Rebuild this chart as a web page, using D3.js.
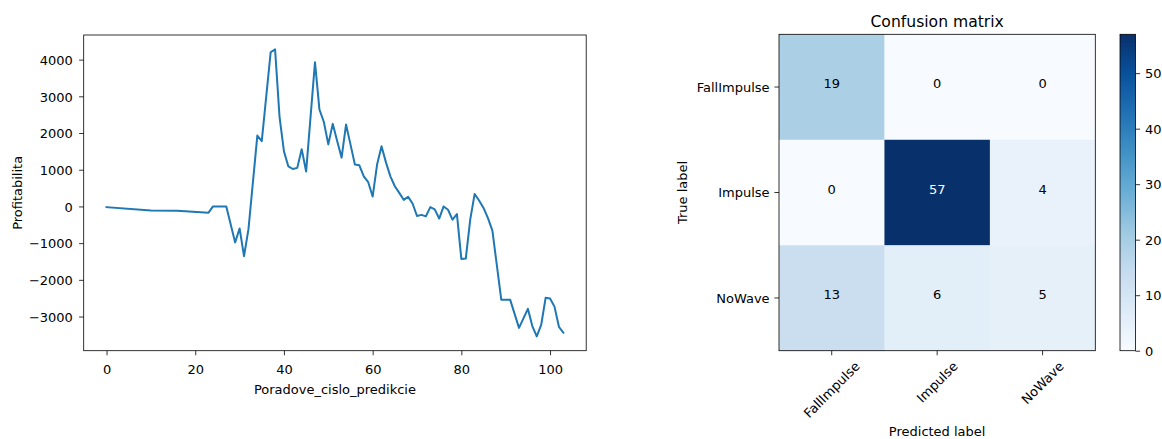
<!DOCTYPE html>
<html>
<head>
<meta charset="utf-8">
<script src="https://cdn.jsdelivr.net/npm/d3@7"></script>
<style>
  html, body { margin: 0; padding: 0; background: #fff; }
  svg { display: block; font-family: "DejaVu Sans", sans-serif; }
</style>
</head>
<body>
<svg id="chart" width="1162" height="439"></svg>
<script>
// ---------- Data: profitability line ----------
const predX = [0, 10, 16, 23, 24, 27, 29, 30, 31, 32, 34, 35, 37, 38, 39, 40, 41, 42, 43, 44, 45,
  47, 48, 49, 50, 51, 52, 53, 54, 55, 56, 57, 58, 59, 60, 61, 62, 63, 64, 65, 66, 67, 68, 69, 70,
  71, 72, 73, 74, 75, 76, 77, 78, 79, 80, 81, 82, 83, 84, 85, 86, 87, 88, 89, 90, 91, 93, 95, 96,
  97, 98, 99, 100, 101, 102, 103];
const profit = [-20, -110, -120, -170, 0, 0, -980, -600, -1355, -620, 1930, 1780, 4200, 4280, 2450,
  1500, 1090, 1020, 1050, 1560, 950, 3930, 2640, 2300, 1690, 2250, 1780, 1330, 2230, 1690, 1140,
  1120, 820, 660, 270, 1140, 1640, 1200, 820, 550, 370, 180, 260, 80, -260, -230, -270, -20, -80,
  -330, 0, -90, -360, -210, -1430, -1420, -360, 340, 160, -40, -320, -660, -1600, -2540, -2540,
  -2540, -3310, -2790, -3260, -3540, -3230, -2490, -2510, -2730, -3280, -3440];
const xTicks = [0, 20, 40, 60, 80, 100];
const yTicks = [-3000, -2000, -1000, 0, 1000, 2000, 3000, 4000];
const xLabel = "Poradove_cislo_predikcie";
const yLabel = "Profitabilita";

// ---------- Data: confusion matrix ----------
const classes = ["FallImpulse", "Impulse", "NoWave"];
const matrix = [
  [19, 0, 0],
  [0, 57, 4],
  [13, 6, 5]
];
const cbTicks = [0, 10, 20, 30, 40, 50];
const cmTitle = "Confusion matrix";
const cmXLabel = "Predicted label";
const cmYLabel = "True label";
const bluesStops = ["#f7fbff", "#deebf7", "#c6dbef", "#9ecae1", "#6baed6", "#4292c6", "#2171b5", "#08519c", "#08306b"];

const svg = d3.select("#chart");
const FS = 13;
const fmt = d3.format("d");

// ================= Left: line chart =================
const L = { left: 83.7, right: 586.2, top: 35, bottom: 350.7 };
const xMin = d3.min(predX), xMax = d3.max(predX);
const xPad = (xMax - xMin) * 0.05;
const yMin = d3.min(profit), yMax = d3.max(profit);
const yPad = (yMax - yMin) * 0.05;

const x = d3.scaleLinear().domain([xMin - xPad, xMax + xPad]).range([L.left, L.right]);
const y = d3.scaleLinear().domain([yMin - yPad, yMax + yPad]).range([L.bottom, L.top]);

const gL = svg.append("g");

const line = d3.line().x((d, i) => x(predX[i])).y(d => y(d));
gL.append("path")
  .datum(profit)
  .attr("d", line)
  .attr("fill", "none")
  .attr("stroke", "#1f77b4")
  .attr("stroke-width", 2)
  .attr("stroke-linejoin", "round")
  .attr("stroke-linecap", "square");

const xAxis = gL.append("g")
  .attr("transform", `translate(0,${L.bottom})`)
  .call(d3.axisBottom(x).tickValues(xTicks).tickFormat(fmt).tickSize(4.6).tickSizeOuter(0).tickPadding(9.6));
const yAxis = gL.append("g")
  .attr("transform", `translate(${L.left},0)`)
  .call(d3.axisLeft(y).tickValues(yTicks).tickFormat(fmt).tickSize(4.6).tickSizeOuter(0).tickPadding(6.2));

[xAxis, yAxis].forEach(a => {
  a.select(".domain").remove();
  a.selectAll(".tick line").attr("stroke", "#000").attr("stroke-width", 0.8);
  a.selectAll(".tick text").attr("fill", "#000").style("font-size", FS + "px").style("font-family", "DejaVu Sans");
});
yAxis.selectAll(".tick text").attr("dy", "0.36em");

gL.append("rect")
  .attr("x", L.left).attr("y", L.top)
  .attr("width", L.right - L.left).attr("height", L.bottom - L.top)
  .attr("fill", "none").attr("stroke", "#000").attr("stroke-width", 0.8);

gL.append("text")
  .attr("x", (L.left + L.right) / 2).attr("y", 393.5)
  .attr("text-anchor", "middle").style("font-size", FS + "px")
  .text(xLabel);
gL.append("text")
  .attr("transform", `translate(22,${(L.top + L.bottom) / 2}) rotate(-90)`)
  .attr("text-anchor", "middle").style("font-size", FS + "px")
  .text(yLabel);

// ================= Right: confusion matrix =================
const M = { left: 779, right: 1095.3, top: 34.3, bottom: 350.7 };
const vmax = d3.max(matrix.flat());
const color = d3.scaleLinear()
  .domain(bluesStops.map((c, i) => vmax * i / (bluesStops.length - 1)))
  .range(bluesStops)
  .interpolate(d3.interpolateRgb)
  .clamp(true);

const cx = d3.scaleBand().domain(classes).range([M.left, M.right]);
const cy = d3.scaleBand().domain(classes).range([M.top, M.bottom]);

const gM = svg.append("g");
const cells = [];
matrix.forEach((row, i) => row.forEach((v, j) => cells.push({ r: classes[i], c: classes[j], v })));

gM.selectAll("rect.cell").data(cells).join("rect")
  .attr("class", "cell")
  .attr("x", d => cx(d.c)).attr("y", d => cy(d.r))
  .attr("width", cx.bandwidth() + 0.4).attr("height", cy.bandwidth() + 0.4)
  .attr("fill", d => color(d.v));

const thresh = vmax / 2;
gM.selectAll("text.val").data(cells).join("text")
  .attr("class", "val")
  .attr("x", d => cx(d.c) + cx.bandwidth() / 2)
  .attr("y", d => cy(d.r) + cy.bandwidth() / 2)
  .attr("dy", "0.1em")
  .attr("text-anchor", "middle")
  .style("font-size", FS + "px")
  .attr("fill", d => d.v > thresh ? "#fff" : "#000")
  .text(d => d.v);

gM.append("rect")
  .attr("x", M.left).attr("y", M.top)
  .attr("width", M.right - M.left).attr("height", M.bottom - M.top)
  .attr("fill", "none").attr("stroke", "#000").attr("stroke-width", 0.8);

// y ticks
classes.forEach(c => {
  const yy = cy(c) + cy.bandwidth() / 2;
  gM.append("line").attr("x1", M.left - 4.6).attr("x2", M.left).attr("y1", yy).attr("y2", yy)
    .attr("stroke", "#000").attr("stroke-width", 0.8);
  gM.append("text").attr("x", M.left - 9.4).attr("y", yy).attr("dy", "0.36em")
    .attr("text-anchor", "end").style("font-size", FS + "px").text(c);
});
// x ticks (rotated 45)
classes.forEach(c => {
  const xx = cx(c) + cx.bandwidth() / 2;
  gM.append("line").attr("x1", xx).attr("x2", xx).attr("y1", M.bottom).attr("y2", M.bottom + 4.6)
    .attr("stroke", "#000").attr("stroke-width", 0.8);
  const t = gM.append("text").attr("text-anchor", "middle").attr("dy", "0.35em")
    .style("font-size", FS + "px").text(c);
  const w = t.node().getComputedTextLength();
  const h = FS * 0.75;
  const yc = M.bottom + 9.8 + (w + h) / (2 * Math.SQRT2);
  t.attr("transform", `translate(${xx},${yc}) rotate(-45)`);
});

gM.append("text")
  .attr("x", (M.left + M.right) / 2).attr("y", 436.3)
  .attr("text-anchor", "middle").style("font-size", FS + "px")
  .text(cmXLabel);
gM.append("text")
  .attr("transform", `translate(687,${(M.top + M.bottom) / 2}) rotate(-90)`)
  .attr("text-anchor", "middle").style("font-size", FS + "px")
  .text(cmYLabel);
gM.append("text")
  .attr("x", (M.left + M.right) / 2).attr("y", 26.7)
  .attr("text-anchor", "middle").style("font-size", "15.6px")
  .text(cmTitle);

// colorbar
const CB = { left: 1120, right: 1135.5, top: 34.3, bottom: 350.7 };
const cbScale = d3.scaleLinear().domain([0, vmax]).range([CB.bottom, CB.top]);
const defs = svg.append("defs");
const grad = defs.append("linearGradient").attr("id", "cbgrad")
  .attr("x1", 0).attr("y1", 1).attr("x2", 0).attr("y2", 0);
d3.range(0, 1.0001, 0.02).forEach(t => {
  grad.append("stop").attr("offset", t).attr("stop-color", color(t * vmax));
});
gM.append("rect")
  .attr("x", CB.left).attr("y", CB.top)
  .attr("width", CB.right - CB.left).attr("height", CB.bottom - CB.top)
  .attr("fill", "url(#cbgrad)").attr("stroke", "#000").attr("stroke-width", 0.8);
const cbAxis = gM.append("g")
  .attr("transform", `translate(${CB.right},0)`)
  .call(d3.axisRight(cbScale).tickValues(cbTicks).tickFormat(fmt).tickSize(4.6).tickSizeOuter(0).tickPadding(5));
cbAxis.select(".domain").remove();
cbAxis.selectAll(".tick line").attr("stroke", "#000").attr("stroke-width", 0.8);
cbAxis.selectAll(".tick text").attr("fill", "#000").attr("dy", "0.36em")
  .style("font-size", FS + "px").style("font-family", "DejaVu Sans");
</script>
</body>
</html>
